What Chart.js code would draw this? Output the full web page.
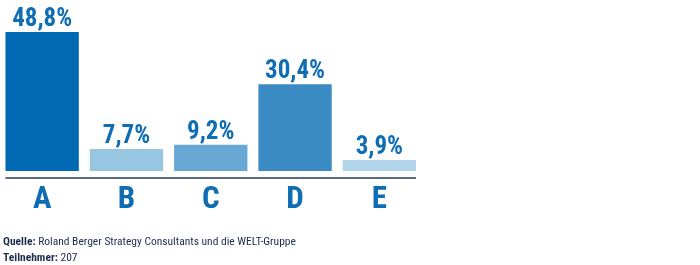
<!DOCTYPE html>
<html>
<head>
<meta charset="utf-8">
<script src="https://cdn.jsdelivr.net/npm/chart.js@4"></script>
<style>
  html, body { margin: 0; padding: 0; background: #fff; }
  #wrap { position: relative; width: 700px; height: 265px; }
  .note { font-family: 'Roboto Condensed', 'Liberation Sans', Arial, sans-serif; font-size: 11.5px; color: #1c2c4c; position: absolute; left: 3px; }
  .note b { font-weight: bold; }
</style>
</head>
<body>
<div id="wrap">
  <canvas id="chart" width="700" height="265"></canvas>
  <div class="note" style="top:234px"><b>Quelle:</b> Roland Berger Strategy Consultants und die WELT-Gruppe</div>
  <div class="note" style="top:250px"><b>Teilnehmer:</b> 207</div>
</div>
<script>
// Daten
const categories = ['A', 'B', 'C', 'D', 'E'];
const values = [48.8, 7.7, 9.2, 30.4, 3.9];
const barColors = ['#0069b4', '#98c6e1', '#69a8d5', '#3a8bc3', '#b3d5ea'];

const FONT = "'Roboto Condensed', 'Liberation Sans', Arial, sans-serif";
const BLUE = '#0f6db4';

// Werte über den Balken, Grundlinie und Kategorien darunter
const labelsPlugin = {
    id: 'labelsPlugin',
    afterDatasetsDraw(chart) {
        const ctx = chart.ctx;
        const meta = chart.getDatasetMeta(0);
        const xs = chart.scales.x;
        const area = chart.chartArea;
        ctx.save();

        ctx.font = 'bold 25px ' + FONT;
        ctx.fillStyle = BLUE;
        ctx.textAlign = 'center';
        ctx.textBaseline = 'alphabetic';
        meta.data.forEach((bar, i) => {
            const txt = values[i].toFixed(1).replace('.', ',') + '%';
            ctx.fillText(txt, bar.x, bar.y - 6);
        });

        // Achsenlinie etwas unter den Balken, vom ersten bis zum letzten Balken
        const first = meta.data[0], last = meta.data[meta.data.length - 1];
        ctx.strokeStyle = '#5b6b85';
        ctx.lineWidth = 2;
        ctx.beginPath();
        ctx.moveTo(first.x - first.width / 2, area.bottom + 7);
        ctx.lineTo(last.x + last.width / 2, area.bottom + 7);
        ctx.stroke();

        ctx.font = 'bold 31px ' + FONT;
        categories.forEach((c, i) => {
            ctx.fillText(c, xs.getPixelForValue(i), area.bottom + 37);
        });
        ctx.restore();
    }
};

new Chart(document.getElementById('chart'), {
    type: 'bar',
    data: {
        labels: categories,
        datasets: [{
            data: values,
            backgroundColor: barColors,
            borderWidth: 0,
            barPercentage: 0.87,
            categoryPercentage: 1
        }]
    },
    options: {
        responsive: false,
        animation: false,
        layout: { padding: { left: -3.5, right: 278.5, top: 0, bottom: 94 } },
        plugins: { legend: { display: false }, tooltip: { enabled: false } },
        scales: {
            x: { display: false },
            y: { display: false, min: 0, max: 60 }
        }
    },
    plugins: [labelsPlugin]
});
</script>
</body>
</html>
